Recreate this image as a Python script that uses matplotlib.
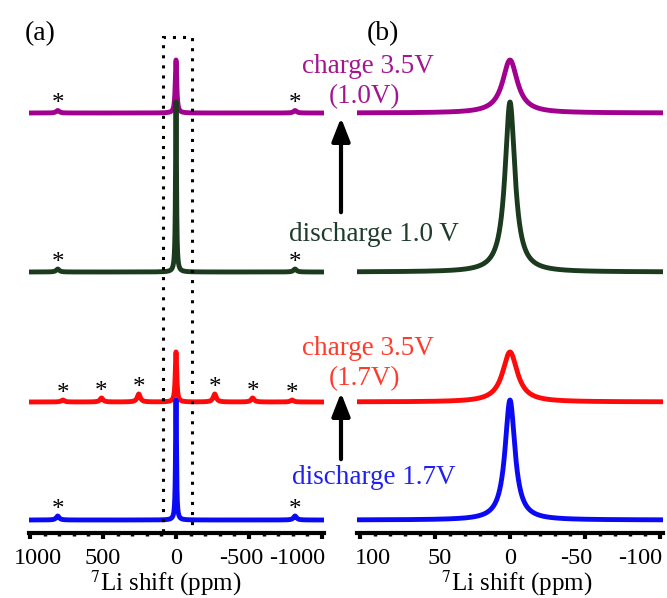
import matplotlib.pyplot as plt
import matplotlib.transforms as mtransforms
import numpy as np
from matplotlib.patches import FancyArrowPatch, Rectangle
from matplotlib.ticker import FixedLocator, MultipleLocator

plt.rcParams['font.family'] = ['Liberation Serif', 'DejaVu Serif']
plt.rcParams['mathtext.fontset'] = 'stix'
plt.rcParams['axes.unicode_minus'] = False

W, H = 667, 598

# SPECTRA, BOTTOM TO TOP
line_colors = ['#0a0af5', '#ff0a0a', '#1b3a1e', '#a2008e']
text_colors = ['#2020f0', '#ff3b2b', '#1e3b2c', '#a4168f']
offsets = [13, 131, 261, 420]
peak_heights = [120, 50, 170, 53]
peak_fwhm = [8, 12, 8, 12]  # ppm

# spinning sidebands (ppm, height)
sb_pos = [[810, -815], [775, 510, 255, -265, -525, -795], [810, -815], [810, -815]]
sb_height = [[4, 4], [2, 4, 8, 8, 4, 2], [3, 3], [2.5, 2.5]]
sb_fwhm = 25

# tick values
ticks_a = [1000, 500, 0, -500, -1000]
ticks_b = [100, 50, 0, -50, -100]
# the end labels sit pulled inward in the original (pixels)
shift_a = [8, 0, 0, -8, -25]
shift_b = [13, 5, 0, -9, -20]

# dotted box in (a), ppm
box_left, box_right, box_top = 90, -110, 496


def lorentz(x, x0, h, w):
    return h / (1 + ((x - x0) / (w / 2)) ** 2)


def spectrum(x, i):
    y = lorentz(x, 0, peak_heights[i], peak_fwhm[i])
    for p, h in zip(sb_pos[i], sb_height[i]):
        y = y + lorentz(x, p, h, sb_fwhm)
    return offsets[i] + y


fig = plt.figure(figsize=(W / 100, H / 100), dpi=100)
ax_a = fig.add_axes([28.5 / W, 65 / H, 295 / W, 533 / H])
ax_b = fig.add_axes([357 / W, 65 / H, 306 / W, 533 / H])

x_a = np.linspace(1010, -1010, 16001)
x_b = np.linspace(102, -102, 4001)

for ax, x in [(ax_a, x_a), (ax_b, x_b)]:
    for i in range(4):
        ax.plot(x, spectrum(x, i), color=line_colors[i], lw=3.5,
                solid_capstyle='round', zorder=10 - i)
    ax.set_ylim(0, 533)
    ax.set_yticks([])
    for s in ['left', 'right', 'top']:
        ax.spines[s].set_visible(False)
    ax.spines['bottom'].set_linewidth(3)
    ax.tick_params(axis='x', which='major', length=4, width=3, labelsize=17.5, pad=7)
    ax.tick_params(axis='x', which='minor', length=2.5, width=2.5)
    ax.set_xlabel(r'$^{7}$Li shift (ppm)', fontsize=18, labelpad=-1)

ax_a.xaxis.label.set_x(0.466)
ax_b.xaxis.label.set_x(0.523)

ax_a.set_xlim(1010, -1010)
ax_a.xaxis.set_major_locator(FixedLocator(ticks_a))
ax_a.xaxis.set_minor_locator(MultipleLocator(100))
ax_b.set_xlim(102, -102)
ax_b.xaxis.set_major_locator(FixedLocator(ticks_b))
ax_b.xaxis.set_minor_locator(MultipleLocator(10))

for ax, ticks, shifts in [(ax_a, ticks_a, shift_a), (ax_b, ticks_b, shift_b)]:
    ax.set_xticklabels([str(t) for t in ticks])
    for lab, dx in zip(ax.get_xticklabels(), shifts):
        lab.set_transform(lab.get_transform() +
                          mtransforms.ScaledTranslation(dx / 100, 0, fig.dpi_scale_trans))

# asterisks on sidebands
for i in range(4):
    for p, h in zip(sb_pos[i], sb_height[i]):
        ax_a.annotate('*', (p, offsets[i] + h), xytext=(0, 0), textcoords='offset points',
                      ha='center', va='baseline', fontsize=18)

ax_a.add_patch(Rectangle((box_right, 0), box_left - box_right, box_top, fill=False,
                         ls=(0, (1, 2.3)), lw=2.2, ec='black', clip_on=False, zorder=20))

# panel labels
fig.text(40 / W, 1 - 40 / H, '(a)', fontsize=20, ha='center', va='baseline')
fig.text(383 / W, 1 - 40 / H, '(b)', fontsize=20, ha='center', va='baseline')

# state labels
labels = [('discharge 1.7V', 374, 484), ('charge 3.5V', 368, 355), ('(1.7V)', 365, 385),
          ('discharge 1.0 V', 374, 241), ('charge 3.5V', 368, 73), ('(1.0V)', 365, 103)]
label_idx = [0, 1, 1, 2, 3, 3]
for (t, x, y), i in zip(labels, label_idx):
    fig.text(x / W, 1 - y / H, t, color=text_colors[i], fontsize=19.5,
             ha='center', va='baseline')

# arrows
for y0, y1 in [(215, 115), (462, 390)]:
    arr = FancyArrowPatch((341 / W, 1 - y0 / H), (341 / W, 1 - y1 / H),
                          transform=fig.transFigure, arrowstyle='-|>,head_length=1.4,head_width=0.55',
                          mutation_scale=10, lw=3, color='black')
    fig.add_artist(arr)

fig.savefig('out.png', dpi=100)
